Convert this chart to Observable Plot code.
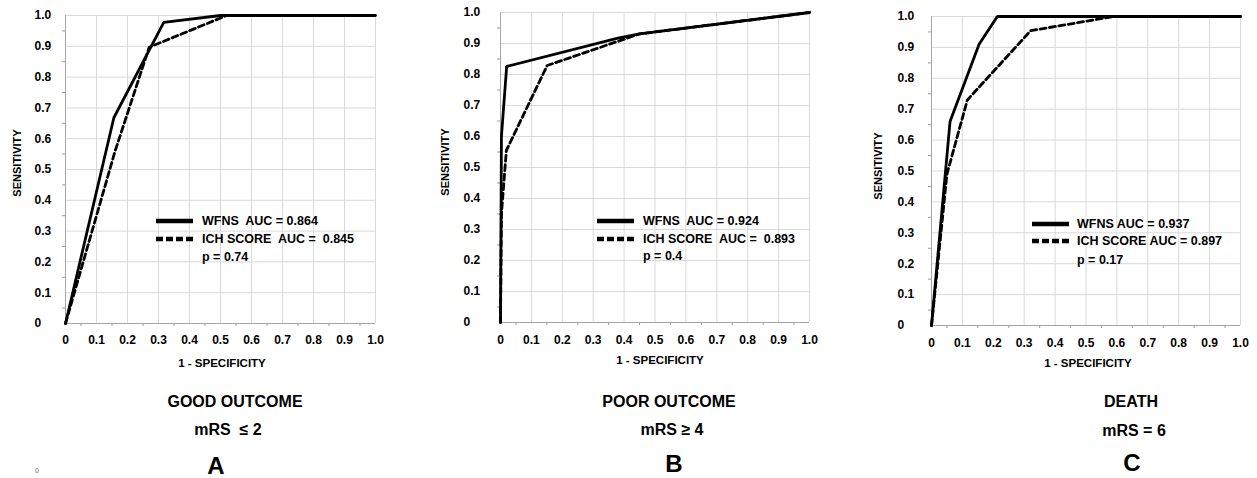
<!DOCTYPE html>
<html><head><meta charset="utf-8">
<script src="https://cdn.jsdelivr.net/npm/d3@7"></script>
<script src="https://cdn.jsdelivr.net/npm/@observablehq/plot@0.6"></script>
<style>
body{margin:0;background:#fff;font-family:"Liberation Sans",Arial,sans-serif;font-weight:bold;color:#000;}
#wrap{position:relative;width:1257px;height:478px;overflow:hidden;}
.panel{position:absolute;top:0;}
.t{position:absolute;white-space:pre;transform:translate(-50%,-50%);line-height:1;}
.lt{position:absolute;white-space:pre;transform:translate(-50%,-50%);line-height:0.75;}
.yl{position:absolute;white-space:pre;font-size:11px;line-height:1;transform:translate(-50%,-50%) rotate(-90deg);}
.leg{position:absolute;font-size:12px;white-space:pre;line-height:1;transform:translateY(-50%);}
.sw{position:absolute;}
</style></head><body><div id="wrap"></div>
<script>
// ---- data ----
const tickValues = [0, 0.1, 0.2, 0.3, 0.4, 0.5, 0.6, 0.7, 0.8, 0.9, 1.0];
const tickLabels = ["0", "0.1", "0.2", "0.3", "0.4", "0.5", "0.6", "0.7", "0.8", "0.9", "1.0"];
const minorTicks = [0.05, 0.15, 0.25, 0.35, 0.45, 0.55, 0.65, 0.75, 0.85, 0.95];

const seriesNames = ["WFNS", "ICH SCORE"];

const aWfnsX = [0, 0.156, 0.317, 0.50, 1.0];
const aWfnsY = [0, 0.668, 0.978, 1.0, 1.0];
const aIchX = [0, 0.16, 0.27, 0.52, 1.0];
const aIchY = [0, 0.56, 0.897, 1.0, 1.0];

const bWfnsX = [0, 0.003, 0.02, 0.38, 0.45, 1.0];
const bWfnsY = [0, 0.60, 0.826, 0.917, 0.931, 1.0];
const bIchX = [0, 0.003, 0.019, 0.151, 0.45, 1.0];
const bIchY = [0, 0.35, 0.555, 0.829, 0.931, 1.0];

const cWfnsX = [0, 0.06, 0.154, 0.213, 1.0];
const cWfnsY = [0, 0.66, 0.91, 1.0, 1.0];
const cIchX = [0, 0.05, 0.116, 0.321, 0.59, 1.0];
const cIchY = [0, 0.49, 0.73, 0.954, 1.0, 1.0];

const legendA = ["WFNS  AUC = 0.864", "ICH SCORE  AUC =  0.845", "p = 0.74"];
const legendB = ["WFNS  AUC = 0.924", "ICH SCORE  AUC =  0.893", "p = 0.4"];
const legendC = ["WFNS AUC = 0.937", "ICH SCORE AUC = 0.897", "p = 0.17"];

const titles = ["GOOD OUTCOME", "POOR OUTCOME", "DEATH"];
const subtitles = ["mRS  \u2264 2", "mRS \u2265 4", "mRS = 6"];
const letters = ["A", "B", "C"];
const xLabel = "1 - SPECIFICITY";
const yLabel = "SENSITIVITY";

// ---- layout ----
const wrap = document.getElementById("wrap");
const panels = [
  {left: 0, ml: 65, pw: 310, mr: 20, mt: 15, ph: 308, tp: 12, ytp: 31,
   wx: aWfnsX, wy: aWfnsY, ix: aIchX, iy: aIchY, legend: legendA,
   ylab: [17, 163], xlab: [222, 364], title: [235, 402], sub: [228, 430], letter: [216, 466],
   sw: [156, 193], legY: [221, 239, 257], legX: 202},
  {left: 420, ml: 80, pw: 309, mr: 20, mt: 12, ph: 310, tp: 13, ytp: 37,
   wx: bWfnsX, wy: bWfnsY, ix: bIchX, iy: bIchY, legend: legendB,
   ylab: [445, 162], xlab: [660, 361], title: [669, 402], sub: [672, 430], letter: [674, 464],
   sw: [597, 634], legY: [221, 239, 256], legX: 643},
  {left: 840, ml: 91, pw: 309, mr: 12, mt: 16, ph: 309, tp: 13, ytp: 34,
   wx: cWfnsX, wy: cWfnsY, ix: cIchX, iy: cIchY, legend: legendC,
   ylab: [878, 166], xlab: [1088, 364], title: [1131, 402], sub: [1134, 431], letter: [1132, 463],
   sw: [1032, 1069], legY: [224, 241, 260], legX: 1077}
];

const fmt = d => tickLabels[tickValues.findIndex(v => Math.abs(v - d) < 1e-9)];

panels.forEach((p, i) => {
  const wfns = p.wx.map((x, k) => ({x, y: p.wy[k], s: seriesNames[0]}));
  const ich = p.ix.map((x, k) => ({x, y: p.iy[k], s: seriesNames[1]}));
  const chart = Plot.plot({
    width: p.ml + p.pw + p.mr,
    height: p.mt + p.ph + 40,
    marginLeft: p.ml, marginRight: p.mr, marginTop: p.mt, marginBottom: 40,
    style: {fontFamily: '"Liberation Sans", Arial, sans-serif', fontWeight: "bold", fontSize: "12px", color: "#000", background: "#fff"},
    x: {domain: [0, 1]},
    y: {domain: [0, 1]},
    marks: [
      Plot.gridX(tickValues, {stroke: "#d9d9d9", strokeOpacity: 1}),
      Plot.gridY(tickValues, {stroke: "#d9d9d9", strokeOpacity: 1}),
      Plot.axisX(tickValues, {tickSize: 0, tickPadding: p.tp, tickFormat: fmt, label: null, fill: "#000"}),
      Plot.axisY(tickValues, {tickSize: 0, tickPadding: p.ytp, tickFormat: fmt, label: null, fill: "#000", textAnchor: "start"}),
      Plot.axisX(minorTicks, {tickSize: 3, tickFormat: () => "", label: null, stroke: "#9a9a9a"}),
      Plot.axisY(minorTicks, {tickSize: 3, tickFormat: () => "", label: null, stroke: "#9a9a9a"}),
      Plot.ruleY([0], {stroke: "#a6a6a6"}),
      Plot.ruleX([0], {stroke: "#a6a6a6"}),
      Plot.line(ich, {x: "x", y: "y", stroke: "#000", strokeWidth: 2.8, strokeDasharray: "6,3.5", strokeLinejoin: "miter"}),
      Plot.line(wfns, {x: "x", y: "y", stroke: "#000", strokeWidth: 2.8, strokeLinejoin: "miter"})
    ]
  });
  const div = document.createElement("div");
  div.className = "panel";
  div.style.left = p.left + "px";
  div.appendChild(chart);
  wrap.appendChild(div);

  const addText = (txt, pos, size, cls) => {
    const e = document.createElement("div");
    e.className = cls || "t";
    e.textContent = txt;
    e.style.left = pos[0] + "px";
    e.style.top = pos[1] + "px";
    if (size) e.style.fontSize = size + "px";
    wrap.appendChild(e);
    return e;
  };
  addText(yLabel, p.ylab, 11, "yl");
  addText(xLabel, p.xlab, 11.5);
  addText(titles[i], p.title, 16);
  addText(subtitles[i], p.sub, 16);
  addText(letters[i], p.letter, 24, "lt");

  // legend
  const ns = "http://www.w3.org/2000/svg";
  [0, 1].forEach(k => {
    const svg = document.createElementNS(ns, "svg");
    svg.setAttribute("class", "sw");
    svg.setAttribute("width", p.sw[1] - p.sw[0]);
    svg.setAttribute("height", 6);
    svg.style.left = p.sw[0] + "px";
    svg.style.top = (p.legY[k] - 3) + "px";
    const ln = document.createElementNS(ns, "line");
    ln.setAttribute("x1", 0); ln.setAttribute("x2", p.sw[1] - p.sw[0]);
    ln.setAttribute("y1", 3); ln.setAttribute("y2", 3);
    ln.setAttribute("stroke", "#000"); ln.setAttribute("stroke-width", 4.5);
    if (k === 1) ln.setAttribute("stroke-dasharray", "7,3");
    svg.appendChild(ln);
    wrap.appendChild(svg);
  });
  p.legend.forEach((txt, k) => {
    addText(txt, [p.legX, p.legY[k]], 12.5, "leg");
  });
});

// tiny stray mark at lower left
const z = document.createElement("div");
z.className = "t";
z.textContent = "0";
z.style.left = "37px"; z.style.top = "470px"; z.style.fontSize = "7px"; z.style.fontWeight = "normal"; z.style.color = "#666";
wrap.appendChild(z);
</script>
</body></html>
